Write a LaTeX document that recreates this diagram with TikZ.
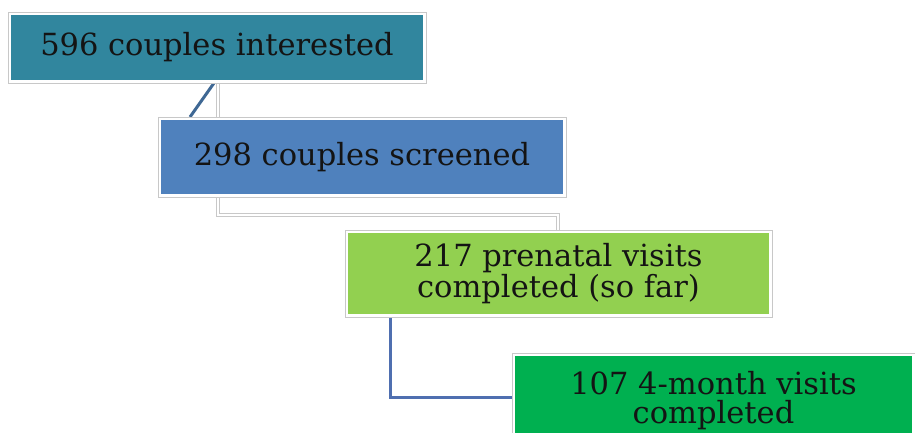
\documentclass[tikz,border=0pt]{standalone}
\usepackage{fontspec}
\setmainfont{DejaVu Serif}
\definecolor{boxteal}{HTML}{31869E}
\definecolor{boxblue}{HTML}{4F81BD}
\definecolor{boxlime}{HTML}{92D050}
\definecolor{boxgreen}{HTML}{00B050}
\definecolor{framegray}{HTML}{C8C8C8}
\definecolor{diagblue}{HTML}{3F6894}
\definecolor{elbowblue}{HTML}{4F6FB0}
\tikzset{
  box/.style={draw=white, line width=3pt, inner sep=0pt, align=center, text=black!92,
    font=\fontsize{30.5}{27.5}\selectfont},
  frame/.style={draw=framegray, line width=0.8pt},
  wconn/.style={draw=framegray, line width=0.8pt, double=white, double distance=2.2pt},
  dconn/.style={draw=diagblue, line width=3pt},
  econn/.style={draw=elbowblue, line width=3pt},
}
\begin{document}
\begin{tikzpicture}[x=1pt,y=-1pt]
\useasboundingbox[fill=white] (0,0) rectangle (915,432);
% coordinates for connector columns
\coordinate (cA) at (218,0);
\coordinate (dTop) at (214,0);
\coordinate (dBot) at (190,0);
\coordinate (cB) at (558,215);
\coordinate (cC) at (390,0);
\coordinate (cD) at (0,397);
% invisible placement of boxes (for anchors)
\path
  node[box, draw=none, minimum width=415pt, minimum height=68pt] (b1) at (217,47.5) {}
  node[box, draw=none, minimum width=405pt, minimum height=77pt] (b2) at (362,157) {}
  node[box, draw=none, minimum width=424pt, minimum height=84pt] (b3) at (558.5,273.5) {}
  node[box, draw=none, minimum width=400pt, minimum height=92pt] (b4) at (713.5,400.5) {};
% connectors
\draw[wconn] (b1.south -| cA) -- (b2.north -| cA);
\draw[dconn] (b1.south -| dTop) -- (b2.north -| dBot);
\draw[wconn] (b2.south -| cA) |- (cB) -- (b3.north -| cB);
\draw[econn] (b3.south -| cC) |- (b4.west |- cD);
% boxes on top of connectors
\node[box, fill=boxteal, minimum width=415pt, minimum height=68pt] (t1) at (b1) {596 couples interested};
\node[box, fill=boxblue, minimum width=405pt, minimum height=77pt] (t2) at (b2) {298 couples screened};
\node[box, fill=boxlime, minimum width=424pt, minimum height=84pt] (t3) at (b3) {217 prenatal visits\\completed (so far)};
\node[box, fill=boxgreen, minimum width=400pt, minimum height=92pt, font=\fontsize{30.5}{29}\selectfont] (t4) at (b4) {107 4-month visits\\completed};
\foreach \n in {t1,t2,t3,t4} {\draw[frame] (\n.north west) rectangle (\n.south east);}
\end{tikzpicture}
\end{document}
